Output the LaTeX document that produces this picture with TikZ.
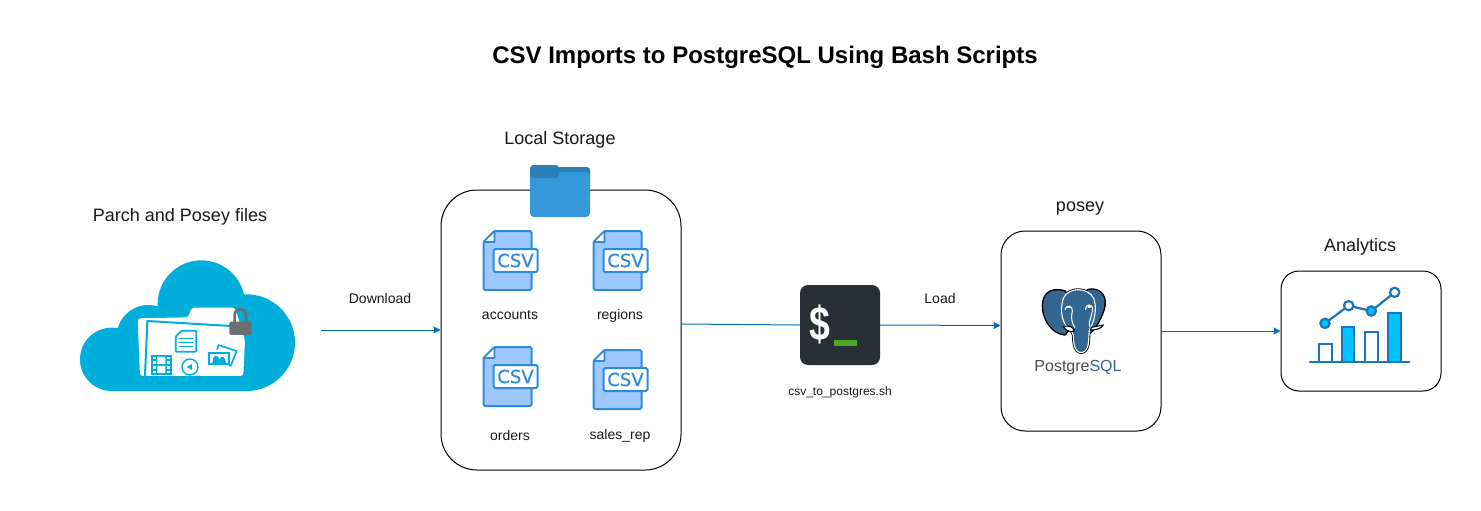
\documentclass[tikz,border=0pt]{standalone}
\usepackage{fontspec}
\setmainfont{Liberation Sans}
\usetikzlibrary{arrows.meta}
\newfontfamily\csvfont[FakeBold=0.5]{DejaVu Sans}
\definecolor{linkblue}{HTML}{006EAF}
\definecolor{cloudblue}{HTML}{00AEDB}
\definecolor{lockgray}{HTML}{6B6E73}
\definecolor{filestroke}{HTML}{2F8AD8}
\definecolor{filefill}{HTML}{9DC8FF}
\definecolor{folderfront}{HTML}{3498DB}
\definecolor{folderback}{HTML}{2A7FB8}
\definecolor{termdark}{HTML}{282F36}
\definecolor{termgreen}{HTML}{4CAA22}
\definecolor{pgblue}{HTML}{336791}
\definecolor{chartblue}{HTML}{1B75BB}
\definecolor{chartcyan}{HTML}{00C3FF}
\newcommand{\fs}[1]{\fontsize{#1}{#1}\selectfont}
\tikzset{
  label/.style={inner sep=0pt,text=black!90,font=\fs{18}},
  small/.style={inner sep=0pt,text=black!90,font=\fs{14}},
  link/.style={draw=linkblue,line width=1pt},
  linkarrow/.style={link,-{Stealth[length=7pt,width=7pt,inset=0.8pt]}},
  csvfile/.pic={
    \draw[filestroke,fill=filefill,line width=2pt,line join=round,rounded corners=1.5pt] (0,11)--(11,0)--(48,0)--(48,59)--(0,59)--cycle;
    \draw[filestroke,fill=white,line width=1.6pt,line join=round] (0,11)--(11,11)--(11,0)--cycle;
    \draw[filestroke,fill=white,line width=2pt,rounded corners=1.5pt] (10,18) rectangle (54,41);
    \node[inner sep=0pt,text=filestroke,font=\csvfont\fs{18}] at (32,29.5) {CSV};
  },
  chartbar/.style={draw=chartblue,line width=2.2pt},
}
\begin{document}
\begin{tikzpicture}[x=1pt,y=-1pt]
\useasboundingbox[fill=white] (0,0) rectangle (1481,511);

% title
\node[inner sep=0pt,font=\fs{24}\bfseries] (title) at (765,57) {CSV Imports to PostgreSQL Using Bash Scripts};

% cloud icon
\begin{scope}[shift={(60,240)},x=0.3333pt,y=-0.3333pt]
  \fill[cloudblue] (424,192) circle (131);
  \fill[cloudblue] (155,358) circle (95);
  \fill[cloudblue] (265,290) circle (95);
  \fill[cloudblue] (560,308) circle (145);
  \fill[cloudblue] (155,300) rectangle (560,453);
  \fill[white,rounded corners=3pt] (233,235) -- (385,232) -- (395,203) -- (525,203) -- (555,300) -- (550,408) -- (240,408) -- cycle;
  \draw[cloudblue,line width=2pt] (255,408) -- (262,243) -- (512,258);
  \draw[cloudblue,line width=1.8pt,rounded corners=1pt,line join=round] (347,290) -- (365,272) -- (409,272) -- (409,335) -- (347,335) -- cycle;
  \draw[cloudblue,line width=1.4pt] (358,295) -- (398,295) (358,307) -- (398,307) (358,319) -- (398,319);
  % film strip
  \fill[cloudblue] (273,345) rectangle (335,405);
  \fill[white] (292,351) rectangle (316,372) (292,378) rectangle (316,399);
  \foreach \yy in {350,364,378,392}{
    \fill[white] (278,\yy) rectangle (287,\yy+8);
    \fill[white] (321,\yy) rectangle (330,\yy+8);
  }
  % play
  \draw[cloudblue,line width=1.4pt] (390,381) circle (24);
  \fill[cloudblue] (380,381) -- (396,372) -- (396,390) -- cycle;
  % photos
  \draw[cloudblue,line width=1.6pt,line join=round] (472,330) -- (475,315) -- (530,333) -- (512,378) -- (506,376);
  \draw[cloudblue,line width=1.8pt] (446,338) rectangle (506,372);
  \fill[cloudblue] (457,372) -- (460,353) .. controls (468,342) and (476,350) .. (478,358) .. controls (482,344) and (498,348) .. (498,372) -- cycle;
  % lock
  \draw[lockgray,line width=2.6pt] (524,248) -- (524,225) .. controls (524,202) and (558,202) .. (558,225) -- (558,248);
  \fill[lockgray,rounded corners=2pt] (508,245) rectangle (574,285);
\end{scope}
\node[label] (cloudlabel) at (180,217) {Parch and Posey files};
\coordinate (cloudout) at (321,330);

% storage
\node[draw=black,line width=1pt,rounded corners=36pt,minimum width=240pt,minimum height=280pt,inner sep=0pt] (storage) at (561,330) {};
\node[label] (storagelabel) at (560,140) {Local Storage};
\fill[folderback,rounded corners=3pt] (530,167) rectangle (590,200);
\fill[folderfront,rounded corners=4pt] (530,172) rectangle (590,217);
\fill[folderback,rounded corners=3.5pt] (530,165) rectangle (559,178);
\pic at (483.5,231) {csvfile};
\pic at (593.5,231) {csvfile};
\pic at (483.5,347) {csvfile};
\pic at (593.5,350) {csvfile};
\node[small] (accounts) at (510,315.5) {accounts};
\node[small] (regions) at (620,315.5) {regions};
\node[small] (orders) at (510,435.5) {orders};
\node[small] (salesrep) at (620,435.5) {sales\_rep};

% terminal
\node[fill=termdark,rounded corners=8pt,minimum size=80pt,inner sep=0pt] (terminal) at (840,325) {};
\node[inner sep=0pt,text=white,font=\fs{48}\bfseries,xscale=0.78] (dollar) at (820,324) {\$};
\fill[termgreen] (834,340) rectangle (857,346);
\node[inner sep=0pt,text=black!90,font=\fs{12}] (script) at (840,392.5) {csv\_to\_postgres.sh};

% postgres
\node[draw=black,line width=1pt,rounded corners=24pt,minimum width=160pt,minimum height=200pt,inner sep=0pt] (posey) at (1081,331) {};
\node[label] (poseylabel) at (1080,208.5) {posey};
\begin{scope}[shift={(1020,275)},x=0.3333pt,y=-0.3333pt]
  \def\earL{(135,50) .. controls (85,35) and (65,65) .. (70,105) .. controls (75,140) and (100,175) .. (135,178) -- (170,120) -- cycle}
  \def\earR{(205,45) .. controls (245,38) and (262,70) .. (250,105) .. controls (240,135) and (225,160) .. (205,178) -- (170,100) -- cycle}
  \def\headP{(130,70) .. controls (145,35) and (205,35) .. (222,72) .. controls (232,105) and (222,140) .. (208,165) .. controls (205,190) and (210,225) .. (188,232) .. controls (168,236) and (160,215) .. (160,180) .. controls (158,165) and (135,160) .. (128,130) .. controls (122,110) and (124,90) .. (130,70) -- cycle}
  \draw[black,line width=2.8pt,line join=round] \earL;
  \draw[black,line width=2.8pt,line join=round] \earR;
  \draw[black,line width=2.8pt,line join=round] \headP;
  \fill[pgblue] \earL;
  \fill[pgblue] \earR;
  \fill[pgblue] \headP;
  \draw[white,line width=1.1pt,line join=round] \headP;
  \draw[white,line width=1pt] (135,105) .. controls (140,85) and (160,92) .. (157,110) .. controls (152,125) and (155,145) .. (165,158);
  \draw[white,line width=1pt] (197,105) .. controls (195,85) and (220,85) .. (218,105) .. controls (215,125) and (205,140) .. (208,155);
  \fill[white] (146,96) ellipse (6 and 3);
  \fill[white] (208,96) ellipse (6 and 3);
  \draw[black,line width=1.1pt,fill=white,line join=round] (130,155) .. controls (145,150) and (160,155) .. (163,168) .. controls (150,172) and (138,168) .. (130,155) -- cycle;
  \draw[black,line width=1.1pt,fill=white,line join=round] (214,157) -- (250,150) .. controls (245,162) and (225,165) .. (212,165) -- cycle;
\end{scope}
\node[inner sep=0pt,font=\fs{16}] (pglogo) at (1078,367.5) {\textcolor{black!70}{Postgre}\textcolor{pgblue}{SQL}};

% analytics
\node[draw=black,line width=1pt,rounded corners=18pt,minimum width=160pt,minimum height=120pt,inner sep=0pt] (analytics) at (1361,331) {};
\node[label] (analyticslabel) at (1360,246.5) {Analytics};
\begin{scope}[shift={(1300,275)},x=0.3333pt,y=-0.3333pt]
  \draw[chartbar,fill=white] (58,207) rectangle (96,260);
  \draw[chartbar,fill=chartcyan] (127,155) rectangle (163,260);
  \draw[chartbar,fill=white] (196,172) rectangle (233,260);
  \draw[chartbar,fill=chartcyan] (265,115) rectangle (302,260);
  \draw[chartbar,line cap=round] (30,262) -- (328,262);
  \draw[chartbar] (75,145) -- (146,92) -- (214,108) -- (284,52);
  \draw[chartbar,fill=chartcyan] (75,145) circle (14);
  \draw[chartbar,fill=white] (146,92) circle (14);
  \draw[chartbar,fill=chartcyan] (214,108) circle (14);
  \draw[chartbar,fill=white] (284,52) circle (14);
\end{scope}

% connectors
\draw[linkarrow] (cloudout) -- (storage.west);
\node[small] (download) at (380,298.5) {Download};
\draw[link] ([yshift=6pt]storage.east) -- (terminal.west);
\draw[linkarrow] (terminal.east) -- ([yshift=5.5pt]posey.west);
\node[small] (load) at (940,298.5) {Load};
\draw[linkarrow] (posey.east) -- (analytics.west);
\end{tikzpicture}
\end{document}
